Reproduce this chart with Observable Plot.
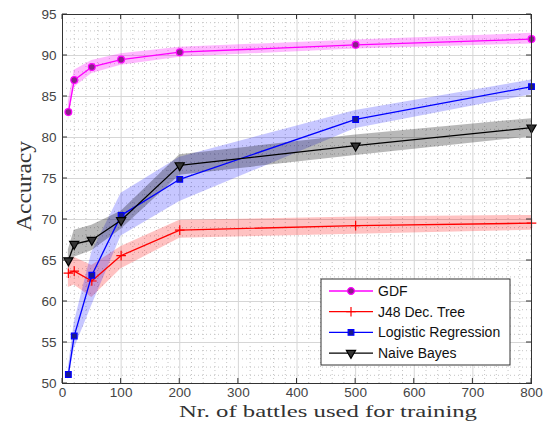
<!DOCTYPE html>
<html><head><meta charset="utf-8">
<script src="https://cdn.jsdelivr.net/npm/d3@7"></script>
<script src="https://cdn.jsdelivr.net/npm/@observablehq/plot@0.6"></script>
<style>body{margin:0;background:#fff;} #chart{position:relative;width:551px;height:426px;}</style>
</head><body><div id="chart"></div>
<script>
// ---- data ----
const xValues = [10, 20, 50, 100, 200, 500, 800];
const seriesNames = ["GDF", "J48 Dec. Tree", "Logistic Regression", "Naive Bayes"];
const gdfMean = [83.1, 87.0, 88.6, 89.5, 90.4, 91.3, 92.0];
const gdfLow  = [82.0, 86.1, 87.8, 88.8, 89.8, 90.8, 91.4];
const gdfHigh = [84.4, 88.2, 89.4, 90.2, 91.0, 91.9, 92.7];
const j48Mean = [63.45, 63.7, 62.5, 65.6, 68.7, 69.25, 69.55];
const j48Low  = [61.7, 62.0, 60.5, 64.0, 67.7, 68.2, 68.7];
const j48High = [65.3, 65.4, 64.4, 66.7, 69.9, 70.3, 70.5];
const lrMean  = [51.1, 55.8, 63.2, 70.5, 74.9, 82.2, 86.2];
const lrLow   = [50.4, 54.2, 59.5, 68.0, 72.2, 81.1, 85.2];
const lrHigh  = [51.9, 57.4, 66.0, 73.2, 77.6, 83.3, 87.0];
const nbMean  = [65.0, 67.0, 67.5, 69.9, 76.6, 79.0, 81.2];
const nbLow   = [63.8, 65.4, 66.2, 68.8, 75.4, 77.8, 80.1];
const nbHigh  = [66.3, 68.7, 69.3, 71.0, 77.9, 80.3, 82.3];
const xTicks = [0, 100, 200, 300, 400, 500, 600, 700, 800];
const yTicks = [50, 55, 60, 65, 70, 75, 80, 85, 90, 95];
const xMinor = d3.range(0, 801, 20).filter(v => v % 100 !== 0);
const yMinor = d3.range(50, 95.1, 1).filter(v => v % 5 !== 0);
const xLabel = "Nr. of battles used for training";
const yLabel = "Accuracy";

// ---- styles ----
const styles = [
  {line: "#ff00ff", band: "#ff00ff", bandOp: 0.28, symbol: "circle", fill: "#8a1f8a", stroke: "#ff00ff", r: 3.4, rotate: 0},
  {line: "#ff0000", band: "#ff0000", bandOp: 0.24, symbol: "plus", fill: "none", stroke: "#ff0000", r: 3.2, rotate: 0},
  {line: "#0000ff", band: "#0000ff", bandOp: 0.22, symbol: "square", fill: "#1a1a8a", stroke: "#0000ff", r: 3.2, rotate: 0},
  {line: "#000000", band: "#000000", bandOp: 0.28, symbol: "triangle", fill: "#333333", stroke: "#000000", r: 3.4, rotate: 180}
];
const means = [gdfMean, j48Mean, lrMean, nbMean];
const lows = [gdfLow, j48Low, lrLow, nbLow];
const highs = [gdfHigh, j48High, lrHigh, nbHigh];
const tables = seriesNames.map((name, i) => xValues.map((x, j) => ({x, name, mean: means[i][j], low: lows[i][j], high: highs[i][j]})));

const bandMarks = tables.map((t, i) => Plot.areaY(t, {x: "x", y1: "low", y2: "high", fill: styles[i].band, fillOpacity: styles[i].bandOp, curve: "linear"}));
const lineMarks = tables.flatMap((t, i) => [
  Plot.line(t, {x: "x", y: "mean", stroke: styles[i].line, strokeWidth: 1.3}),
  Plot.dot(t, {x: "x", y: "mean", symbol: styles[i].symbol, r: styles[i].r, fill: styles[i].fill, stroke: styles[i].stroke, strokeWidth: 1.2, rotate: styles[i].rotate})
]);

const plot = Plot.plot({
  width: 551, height: 426,
  marginLeft: 62, marginRight: 20, marginTop: 14, marginBottom: 43,
  style: {fontFamily: "Liberation Sans, Arial, sans-serif", fontSize: "13.5px", color: "#444", background: "#fff"},
  x: {domain: [0, 800]},
  y: {domain: [50, 95]},
  marks: [
    Plot.gridX(xMinor, {stroke: "#c4c4c4", strokeOpacity: 1, strokeDasharray: "1,3"}),
    Plot.gridY(yMinor, {stroke: "#c4c4c4", strokeOpacity: 1, strokeDasharray: "1,3"}),
    Plot.gridX(xTicks, {stroke: "#d6d6d6", strokeOpacity: 1}),
    Plot.gridY(yTicks, {stroke: "#d6d6d6", strokeOpacity: 1}),
    ...bandMarks,
    ...lineMarks,
    Plot.frame({stroke: "#333", strokeWidth: 1}),
    Plot.axisX(xTicks, {tickSize: 0, tickPadding: 4, label: null, fill: "#444"}),
    Plot.axisY(yTicks, {tickSize: 0, tickPadding: 6, label: null, fill: "#444"})
  ]
});
document.getElementById("chart").appendChild(plot);

// ---- inner ticks, axis titles, legend ----
const svg = d3.select(plot);
const sx = plot.scale("x"), sy = plot.scale("y");
const L = sx.apply(0), R = sx.apply(800), T = sy.apply(95), B = sy.apply(50);
const tg = svg.append("g").attr("stroke", "#333").attr("stroke-width", 1);
xTicks.forEach(v => {
  const px = sx.apply(v);
  tg.append("line").attr("x1", px).attr("x2", px).attr("y1", B).attr("y2", B - 5);
  tg.append("line").attr("x1", px).attr("x2", px).attr("y1", T).attr("y2", T + 5);
});
yTicks.forEach(v => {
  const py = sy.apply(v);
  tg.append("line").attr("x1", L).attr("x2", L + 5).attr("y1", py).attr("y2", py);
  tg.append("line").attr("x1", R).attr("x2", R - 5).attr("y1", py).attr("y2", py);
});
svg.append("text").text(xLabel)
  .attr("x", 328).attr("y", 416.5).attr("text-anchor", "middle")
  .attr("font-family", "Liberation Serif, DejaVu Serif, serif").attr("font-size", 17.5)
  .attr("fill", "#333").attr("textLength", 298).attr("lengthAdjust", "spacingAndGlyphs");
svg.append("text").text(yLabel)
  .attr("transform", "translate(31,186) rotate(-90)").attr("text-anchor", "middle")
  .attr("font-family", "Liberation Serif, DejaVu Serif, serif").attr("font-size", 20)
  .attr("fill", "#333").attr("textLength", 90).attr("lengthAdjust", "spacingAndGlyphs");

const lg = svg.append("g");
lg.append("rect").attr("x", 321).attr("y", 279).attr("width", 189).attr("height", 86)
  .attr("fill", "#fff").attr("stroke", "#333").attr("stroke-width", 1);
const symMap = {circle: d3.symbolCircle, plus: d3.symbolPlus, square: d3.symbolSquare, triangle: d3.symbolTriangle};
seriesNames.forEach((name, i) => {
  const y = 291 + i * 20.7;
  const s = styles[i];
  lg.append("line").attr("x1", 329).attr("x2", 373).attr("y1", y).attr("y2", y)
    .attr("stroke", s.line).attr("stroke-width", 1.3);
  lg.append("path").attr("d", d3.symbol(symMap[s.symbol], Math.PI * s.r * s.r)())
    .attr("transform", `translate(351,${y}) rotate(${s.rotate})`)
    .attr("fill", s.fill).attr("stroke", s.stroke).attr("stroke-width", 1.2);
  lg.append("text").text(name).attr("x", 378).attr("y", y).attr("dy", "0.35em")
    .attr("text-anchor", "start")
    .attr("font-family", "Liberation Sans, Arial, sans-serif").attr("font-size", 14).attr("fill", "#111");
});
</script>
</body></html>
